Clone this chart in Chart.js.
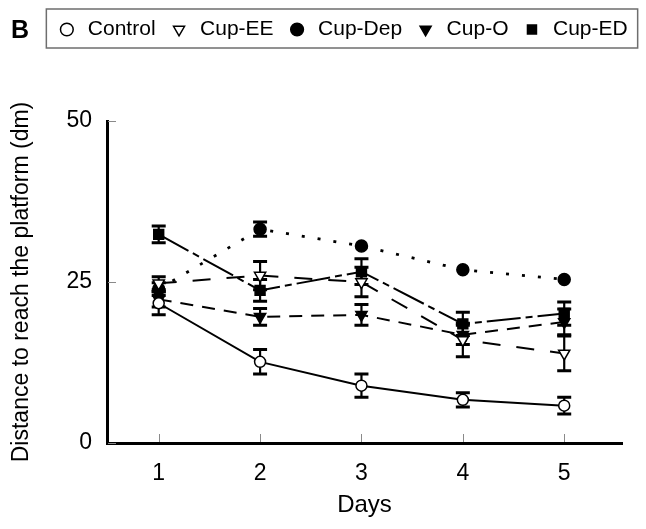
<!DOCTYPE html>
<html>
<head>
<meta charset="utf-8">
<script src="https://cdn.jsdelivr.net/npm/chart.js@4.4.1/dist/chart.umd.min.js"></script>
<style>
  html, body { margin: 0; padding: 0; background: #fff; }
  #wrap { width: 646px; height: 529px; }
</style>
</head>
<body>
<div id="wrap"><canvas id="chart" width="646" height="529"></canvas></div>
<script>
// values (distance in dm, mean and error)
const days = [1, 2, 3, 4, 5];
const yTicks = [0, 25, 50];

const control = [21.7, 12.6, 8.9, 6.7, 5.8];
const controlErr = [1.8, 1.9, 1.8, 1.1, 1.3];
const cupEE = [24.8, 26.0, 25.0, 16.0, 13.9];
const cupEEErr = [1.0, 2.2, 2.3, 2.6, 2.7];
const cupDep = [23.9, 33.2, 30.6, 26.9, 25.4];
const cupDepErr = [1.0, 1.1, 0, 0, 0];
const cupO = [22.3, 19.6, 19.9, 16.8, 18.8];
const cupOErr = [1.2, 1.3, 1.6, 1.5, 2.0];
const cupED = [32.4, 23.7, 26.6, 18.5, 20.1];
const cupEDErr = [1.3, 1.7, 2.0, 1.8, 1.8];

const FONT = "'Liberation Sans', Arial, Helvetica, sans-serif";

function pts(vals) {
    return vals.map((v, i) => ({ x: days[i], y: v }));
}

// error bars drawn under the lines and markers
const errorBars = {
    id: 'errorBars',
    beforeDatasetsDraw(chart) {
        const ctx = chart.ctx;
        const xs = chart.scales.x, ys = chart.scales.y;
        ctx.save();
        ctx.strokeStyle = '#000';
        chart.data.datasets.forEach(ds => {
            ds.data.forEach((p, i) => {
                const e = ds.errors[i];
                if (!e) return;
                const x = xs.getPixelForValue(p.x);
                const yTop = ys.getPixelForValue(p.y + e);
                const yBot = ys.getPixelForValue(p.y - e);
                ctx.lineWidth = 2.2;
                ctx.beginPath();
                ctx.moveTo(x, yTop);
                ctx.lineTo(x, yBot);
                ctx.stroke();
                ctx.lineWidth = 3;
                ctx.beginPath();
                ctx.moveTo(x - 7, yTop);
                ctx.lineTo(x + 7, yTop);
                ctx.moveTo(x - 7, yBot);
                ctx.lineTo(x + 7, yBot);
                ctx.stroke();
            });
        });
        ctx.restore();
    }
};

// small tick marks pointing into the plot, panel letter, legend frame
const decorations = {
    id: 'decorations',
    beforeInit(chart) {
        const fit = chart.legend.fit;
        chart.legend.fit = function () {
            fit.bind(chart.legend)();
            this.height = 115;
        };
    },
    afterLayout(chart) {
        chart.legend.left += 29;
        chart.legend.right += 29;
    },
    afterDraw(chart) {
        const ctx = chart.ctx;
        const xs = chart.scales.x, ys = chart.scales.y;
        const area = chart.chartArea;
        ctx.save();
        ctx.strokeStyle = '#8a8a8a';
        ctx.lineWidth = 1;
        ctx.beginPath();
        xs.ticks.forEach(t => {
            const x = Math.round(xs.getPixelForValue(t.value)) + 0.5;
            ctx.moveTo(x, area.bottom - 1);
            ctx.lineTo(x, area.bottom - 9);
        });
        ys.ticks.forEach(t => {
            const y = Math.round(ys.getPixelForValue(t.value)) + 0.5;
            ctx.moveTo(area.left + 1, y);
            ctx.lineTo(area.left + 9, y);
        });
        ctx.stroke();

        // legend frame
        const boxes = chart.legend.legendHitBoxes;
        if (boxes && boxes.length) {
            const first = boxes[0], last = boxes[boxes.length - 1];
            ctx.strokeStyle = '#6e6e6e';
            ctx.lineWidth = 1.5;
            ctx.strokeRect(first.left - 10, 9, last.left + last.width - first.left + 20, 39);
        }

        ctx.fillStyle = '#000';
        ctx.font = 'bold 25px ' + FONT;
        ctx.textBaseline = 'alphabetic';
        ctx.fillText('B', 11, 38);
        ctx.restore();
    }
};

function series(label, vals, errs, style, filled, radius, dash, width) {
    return {
        label: label,
        data: pts(vals),
        errors: errs,
        borderColor: '#000',
        borderWidth: width,
        borderDash: dash,
        backgroundColor: filled ? '#000' : '#fff',
        pointStyle: style,
        pointRotation: style === 'triangle' ? 180 : 0,
        pointRadius: radius,
        pointBorderWidth: 1.5,
        pointBorderColor: '#000',
        pointBackgroundColor: filled ? '#000' : '#fff',
        tension: 0,
        fill: false
    };
}

const datasets = [
    series('Control', control, controlErr, 'circle', false, 5.5, [], 2),
    series('Cup-EE', cupEE, cupEEErr, 'triangle', false, 6.5, [18, 16], 2),
    series('Cup-Dep', cupDep, cupDepErr, 'circle', true, 6, [3, 13], 2.8),
    series('Cup-O', cupO, cupOErr, 'triangle', true, 6.5, [13, 9], 2),
    series('Cup-ED', cupED, cupEDErr, 'rect', true, 7, [34, 5, 7, 5], 2)
];

new Chart(document.getElementById('chart'), {
    type: 'line',
    data: { datasets: datasets },
    options: {
        responsive: false,
        animation: false,
        layout: { padding: { left: 4, right: 24, top: 6, bottom: 6 } },
        scales: {
            x: {
                type: 'linear',
                min: 0.49,
                max: 5.57,
                afterBuildTicks(scale) { scale.ticks = days.map(v => ({ value: v })); },
                afterFit(scale) { scale.height = 80; },
                grid: { display: true, drawOnChartArea: false, drawTicks: false },
                border: { display: true, color: '#000', width: 3 },
                ticks: { color: '#000', font: { family: FONT, size: 23 }, padding: 17 },
                title: { display: true, text: 'Days', color: '#000', font: { family: FONT, size: 24 }, padding: 3 }
            },
            y: {
                type: 'linear',
                min: 0,
                max: 50,
                afterBuildTicks(scale) { scale.ticks = yTicks.map(v => ({ value: v })); },
                afterFit(scale) { scale.width = 103; },
                grid: { display: true, drawOnChartArea: false, drawTicks: false },
                border: { display: true, color: '#000', width: 3 },
                ticks: { color: '#000', font: { family: FONT, size: 23 }, padding: 15 },
                title: { display: true, text: 'Distance to reach the platform (dm)', color: '#000', font: { family: FONT, size: 23 }, padding: 4 }
            }
        },
        plugins: {
            legend: {
                display: true,
                position: 'top',
                labels: {
                    usePointStyle: true,
                    boxWidth: 21,
                    boxHeight: 9,
                    padding: 13,
                    color: '#000',
                    font: { family: FONT, size: 21 }
                }
            },
            tooltip: { enabled: false }
        }
    },
    plugins: [errorBars, decorations]
});
</script>
</body>
</html>
